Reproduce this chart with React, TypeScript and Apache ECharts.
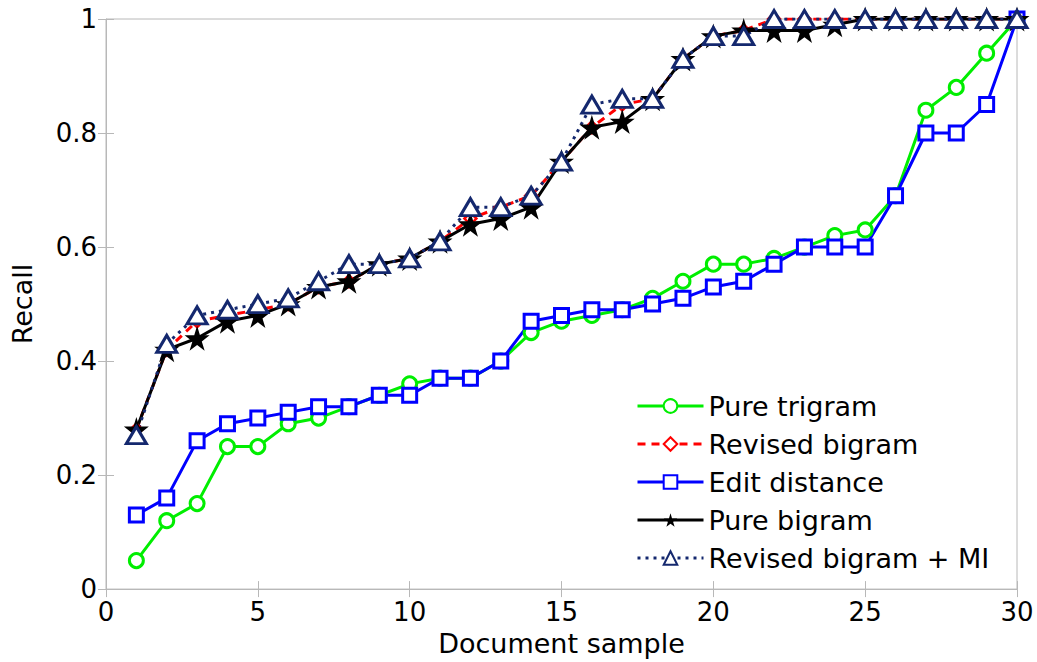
import React, { useEffect, useRef } from "react";
import * as echarts from "echarts";

const samples = [1,2,3,4,5,6,7,8,9,10,11,12,13,14,15,16,17,18,19,20,21,22,23,24,25,26,27,28,29,30];
const pureTrigram = [0.05,0.12,0.15,0.25,0.25,0.29,0.30,0.32,0.34,0.36,0.37,0.37,0.40,0.45,0.47,0.48,0.49,0.51,0.54,0.57,0.57,0.58,0.60,0.62,0.63,0.69,0.84,0.88,0.94,1.0];
const revisedBigram = [0.28,0.42,0.47,0.48,0.49,0.50,0.53,0.54,0.57,0.58,0.61,0.65,0.67,0.69,0.75,0.81,0.85,0.86,0.93,0.97,0.98,1.0,1.0,1.0,1.0,1.0,1.0,1.0,1.0,1.0];
const editDistance = [0.13,0.16,0.26,0.29,0.30,0.31,0.32,0.32,0.34,0.34,0.37,0.37,0.40,0.47,0.48,0.49,0.49,0.50,0.51,0.53,0.54,0.57,0.60,0.60,0.60,0.69,0.80,0.80,0.85,1.0];
const pureBigram = [0.28,0.42,0.44,0.47,0.48,0.50,0.53,0.54,0.57,0.58,0.61,0.64,0.65,0.67,0.75,0.81,0.82,0.86,0.93,0.97,0.98,0.98,0.98,0.99,1.0,1.0,1.0,1.0,1.0,1.0];
const revisedBigramMI = [0.27,0.43,0.48,0.49,0.50,0.51,0.54,0.57,0.57,0.58,0.61,0.67,0.67,0.69,0.75,0.85,0.86,0.86,0.93,0.97,0.97,1.0,1.0,1.0,1.0,1.0,1.0,1.0,1.0,1.0];

const seriesNames = ["Pure trigram", "Revised bigram", "Edit distance", "Pure bigram", "Revised bigram + MI"];

const FONT = "DejaVu Sans";
const STAR = "path://M50,0 L61,35 L98,35 L68,57 L79,91 L50,70 L21,91 L32,57 L2,35 L39,35 Z";
const GRAY = "#b8b8b8";

function pts(vals: number[]) {
  return samples.map((x, i) => [x, vals[i]]);
}

export default function App() {
  const ref = useRef<HTMLDivElement>(null);
  useEffect(() => {
    if (!ref.current) return;
    const chart = echarts.init(ref.current, null, { renderer: "svg" });
    const tickIn = { show: true, inside: true, length: 8, lineStyle: { color: GRAY, width: 1 } };
    const label = { color: "#000", fontFamily: FONT, fontSize: 26 };
    chart.setOption({
      animation: false,
      backgroundColor: "#fff",
      grid: { left: 106, right: 20, top: 19, bottom: 72, show: true, borderColor: GRAY, borderWidth: 1 },
      xAxis: [
        {
          type: "value", min: 0, max: 30, interval: 5,
          name: "Document sample", nameLocation: "middle", nameGap: 40,
          nameTextStyle: { color: "#000", fontFamily: FONT, fontSize: 27 },
          axisLine: { show: true, lineStyle: { color: GRAY } },
          axisTick: tickIn, splitLine: { show: false },
          axisLabel: { ...label, margin: 10 },
        },
        {
          type: "value", min: 0, max: 30, interval: 5, position: "top",
          axisLine: { show: false }, axisTick: tickIn, splitLine: { show: false }, axisLabel: { show: false },
        },
      ],
      yAxis: [
        {
          type: "value", min: 0, max: 1, interval: 0.2,
          name: "Recall", nameLocation: "middle", nameGap: 70,
          nameTextStyle: { color: "#000", fontFamily: FONT, fontSize: 27 },
          axisLine: { show: true, lineStyle: { color: GRAY } },
          axisTick: tickIn, splitLine: { show: false },
          axisLabel: { ...label, margin: 9 },
        },
        {
          type: "value", min: 0, max: 1, interval: 0.2, position: "right",
          axisLine: { show: false }, axisTick: tickIn, splitLine: { show: false }, axisLabel: { show: false },
        },
      ],
      legend: {
        orient: "vertical", left: 631, top: 386,
        itemWidth: 66, itemHeight: 17, itemGap: 8,
        lineStyle: { width: 3 },
        textStyle: { color: "#000", fontFamily: FONT, fontSize: 27, lineHeight: 30 },
        data: seriesNames,
      },
      series: [
        {
          name: seriesNames[0], type: "line", data: pts(pureTrigram),
          symbol: "circle", symbolSize: 14,
          lineStyle: { color: "#00ee00", width: 3 },
          itemStyle: { color: "#fff", borderColor: "#00ee00", borderWidth: 3 },
        },
        {
          name: seriesNames[1], type: "line", data: pts(revisedBigram),
          symbol: "diamond", symbolSize: 12,
          lineStyle: { color: "#ff0000", width: 3, type: [8, 6] },
          itemStyle: { color: "#fff", borderColor: "#ff0000", borderWidth: 2.5 },
        },
        {
          name: seriesNames[2], type: "line", data: pts(editDistance),
          symbol: "rect", symbolSize: 14,
          lineStyle: { color: "#0000ff", width: 3 },
          itemStyle: { color: "#fff", borderColor: "#0000ff", borderWidth: 3 },
        },
        {
          name: seriesNames[3], type: "line", data: pts(pureBigram),
          symbol: STAR, symbolSize: 25,
          lineStyle: { color: "#000", width: 3 },
          itemStyle: { color: "#000", borderColor: "#000", borderWidth: 0 },
        },
        {
          name: seriesNames[4], type: "line", data: pts(revisedBigramMI),
          symbol: "triangle", symbolSize: [20, 17],
          lineStyle: { color: "#14286e", width: 3, type: [3, 5] },
          itemStyle: { color: "#fff", borderColor: "#14286e", borderWidth: 3 },
        },
      ],
    });
    return () => chart.dispose();
  }, []);
  return <div ref={ref} style={{ position: "absolute", left: 0, top: 0, width: 1037, height: 662 }} />;
}
